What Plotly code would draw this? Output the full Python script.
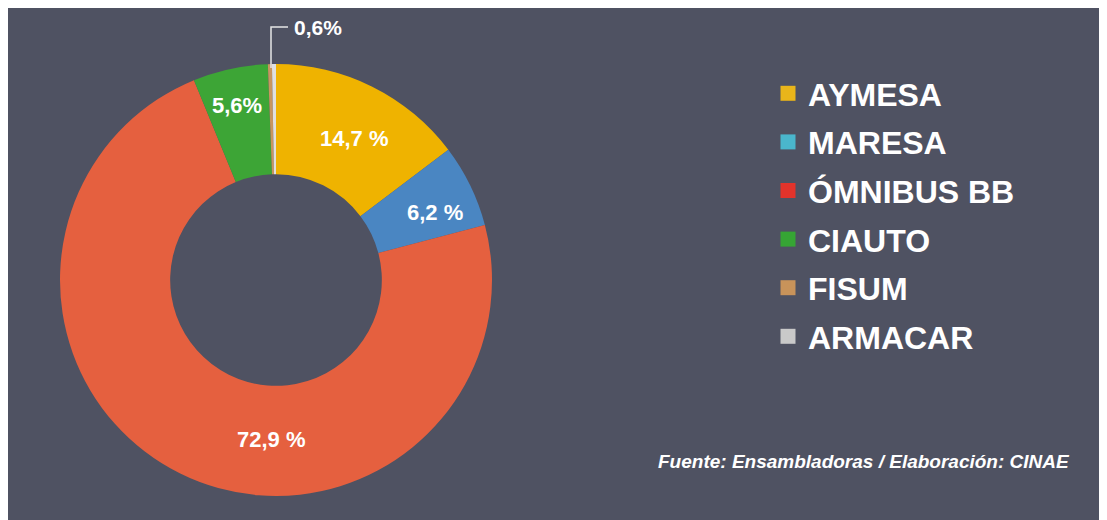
import plotly.graph_objects as go

labels = ["AYMESA", "MARESA", "ÓMNIBUS BB", "CIAUTO", "FISUM", "ARMACAR"]
values = [14.7, 6.2, 72.9, 5.6, 0.3, 0.3]
value_text = ["14,7 %", "6,2 %", "72,9 %", "5,6%", "", ""]
small_label = "0,6%"
slice_colors = ["#efb300", "#4a86c2", "#e5603f", "#3da536", "#c89660", "#e0e0e0"]
legend_colors = ["#e9b51a", "#4ab6cc", "#e2332b", "#36a534", "#c8935a", "#c9c9c9"]
source = "Fuente: Ensambladoras / Elaboración: CINAE"

# label anchor points (figure pixels) for the value texts
label_px = [(346, 130), (427, 204), (263, 431), (229, 97), None, None]

# the page keeps its default 8px body margin, so the figure fills the rest of the window
W, H = 1099, 512
bg = "#4f5262"
FONT = "Liberation Sans, Arial, sans-serif"
CX, CY, R = 268, 272, 216


def px(x, y):
    return x / W, 1 - y / H


fig = go.Figure()
fig.add_trace(go.Pie(
    labels=labels, values=values,
    textinfo="none",
    sort=False, direction="clockwise", rotation=0, hole=0.49,
    marker=dict(colors=slice_colors, line=dict(width=0)),
    domain=dict(x=[(CX - R) / W, (CX + R) / W], y=[1 - (CY + R) / H, 1 - (CY - R) / H]),
    showlegend=False, hoverinfo="label+percent",
))

# legend entries from the same categories
for lab, col in zip(labels, legend_colors):
    fig.add_trace(go.Scatter(
        x=[None], y=[None], mode="markers", name=lab, legendgroup=lab,
        marker=dict(symbol="square", size=15, color=col),
        showlegend=True,
    ))

annotations = []
for txt, pos in zip(value_text, label_px):
    if pos is None or not txt:
        continue
    x, y = px(*pos)
    annotations.append(dict(
        text=txt, xref="paper", yref="paper", x=x, y=y,
        xanchor="center", yanchor="middle", showarrow=False,
        font=dict(family=FONT, size=22, color="white", weight="bold")))

sx, sy = px(284, 19)
annotations.append(dict(
    text=small_label, xref="paper", yref="paper", x=sx, y=sy,
    xanchor="left", yanchor="middle", showarrow=False,
    font=dict(family=FONT, size=21, color="white", weight="bold")))
fx, fy = px(1064, 453)
annotations.append(dict(
    text=f"<i>{source}</i>", xref="paper", yref="paper", x=fx, y=fy,
    xanchor="right", yanchor="middle", showarrow=False,
    font=dict(family=FONT, size=19, color="white", weight="bold")))

p0 = px(263, 60)
p1 = px(263, 19)
p2 = px(280, 19)

lx, ly = px(760, 58)
fig.update_layout(
    width=W, height=H,
    margin=dict(l=0, r=0, t=0, b=0),
    paper_bgcolor=bg, plot_bgcolor="rgba(0,0,0,0)",
    xaxis=dict(visible=False), yaxis=dict(visible=False),
    legend=dict(
        x=lx, y=ly, xanchor="left", yanchor="top",
        font=dict(family=FONT, size=32, color="white", weight="bold"),
        bgcolor="rgba(0,0,0,0)", traceorder="grouped", tracegroupgap=4,
        itemclick=False,
    ),
    shapes=[
        dict(type="path", xref="paper", yref="paper",
             path=f"M {p0[0]} {p0[1]} L {p1[0]} {p1[1]} L {p2[0]} {p2[1]}",
             line=dict(color="#e6e6e6", width=1.5)),
    ],
    annotations=annotations,
)

fig.write_html("out.html")
